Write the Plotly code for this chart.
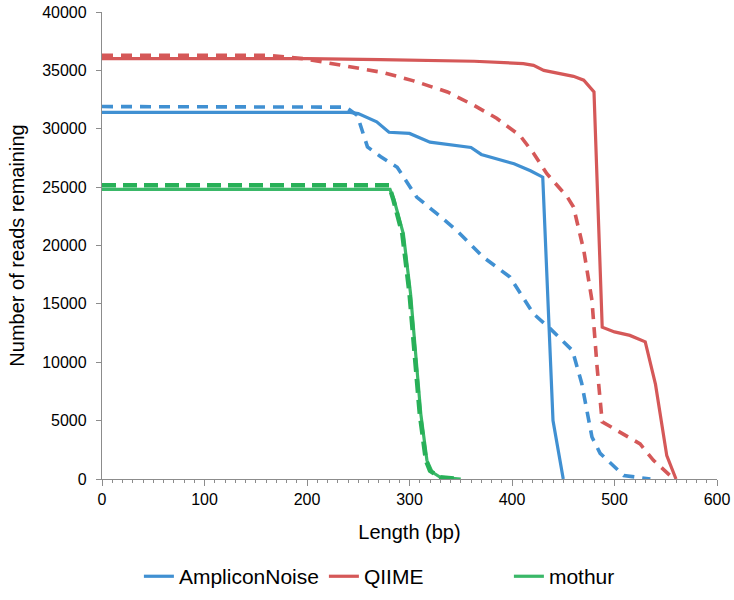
import plotly.graph_objects as go

# AmpliconNoise
an_solid_x = [0, 242, 250, 268, 280, 300, 320, 360, 370, 390, 402, 418, 430, 440, 450]
an_solid_y = [31400, 31400, 31300, 30600, 29700, 29600, 28850, 28400, 27800, 27300, 27000, 26400, 25850, 5000, 0]
an_dash_x = [0, 238, 249, 259, 272, 288, 294, 307, 327, 346, 372, 398, 421, 437, 459, 468, 478, 486, 509, 535]
an_dash_y = [31900, 31850, 31150, 28450, 27600, 26700, 25900, 24150, 22700, 21300, 19000, 17300, 14150, 12900, 11000, 8200, 3600, 2200, 300, 0]

# QIIME
qi_solid_x = [0, 200, 272, 363, 411, 421, 431, 460, 470, 480, 488, 500, 515, 530, 540, 551, 560]
qi_solid_y = [36000, 36000, 35920, 35780, 35580, 35430, 35000, 34490, 34160, 33150, 13000, 12600, 12300, 11750, 8100, 2000, 0]
qi_dash_x = [0, 160, 197, 223, 249, 275, 304, 337, 363, 385, 408, 421, 434, 454, 460, 470, 478, 483, 488, 502, 525, 538, 558]
qi_dash_y = [36300, 36300, 36000, 35600, 35150, 34800, 34100, 33150, 32000, 30900, 29400, 27900, 26150, 24150, 23300, 19600, 15300, 9600, 4900, 4150, 3000, 1600, 0]

# mothur
mo_solid_x = [0, 281, 285, 294, 301, 306, 311, 317, 322, 330, 350]
mo_solid_y = [24800, 24800, 23900, 21000, 15900, 11000, 5600, 1600, 600, 150, 0]
mo_dash_x = [0, 280, 284, 293, 300, 305, 310, 316, 320, 330, 350]
mo_dash_y = [25150, 25150, 24000, 21000, 15900, 11000, 5600, 1600, 700, 150, 0]

series_names = ["AmpliconNoise", "QIIME", "mothur"]
x_ticks = [0, 100, 200, 300, 400, 500, 600]
y_ticks = [0, 5000, 10000, 15000, 20000, 25000, 30000, 35000, 40000]

BLUE = "rgb(64,144,210)"
RED = "rgb(213,88,88)"
GREEN = "rgb(58,184,104)"
GREEN_D = "rgb(40,176,88)"

fig = go.Figure()
fig.add_trace(go.Scatter(x=an_solid_x, y=an_solid_y, mode="lines", name=series_names[0],
                         line=dict(color=BLUE, width=3.2)))
fig.add_trace(go.Scatter(x=qi_solid_x, y=qi_solid_y, mode="lines", name=series_names[1],
                         line=dict(color=RED, width=3.2)))
fig.add_trace(go.Scatter(x=mo_solid_x, y=mo_solid_y, mode="lines", name=series_names[2],
                         line=dict(color=GREEN, width=3.2)))
fig.add_trace(go.Scatter(x=an_dash_x, y=an_dash_y, mode="lines", showlegend=False,
                         line=dict(color=BLUE, width=3.6, dash="11px,8px")))
fig.add_trace(go.Scatter(x=qi_dash_x, y=qi_dash_y, mode="lines", showlegend=False,
                         line=dict(color=RED, width=3.6, dash="11px,8px")))
fig.add_trace(go.Scatter(x=mo_dash_x, y=mo_dash_y, mode="lines", showlegend=False,
                         line=dict(color=GREEN_D, width=4.5, dash="14px,7px")))

FONT = "Liberation Sans, Arial, sans-serif"
AXC = "#8c8c8c"

fig.update_layout(
    width=734, height=600,
    margin=dict(l=102, r=17, t=12, b=121, autoexpand=False),
    plot_bgcolor="white", paper_bgcolor="white",
    font=dict(family=FONT, color="black", size=16),
    showlegend=True,
    legend=dict(orientation="h", x=0.060, xanchor="left", y=-0.209, yanchor="middle",
                font=dict(size=21, family=FONT, color="black"), itemwidth=30,
                entrywidth=140, entrywidthmode="pixels",
                bgcolor="rgba(0,0,0,0)"),
)
fig.update_xaxes(range=[0, 600], tickvals=x_ticks, ticktext=[str(v) for v in x_ticks],
                 automargin=False,
                 showgrid=False, zeroline=False, showline=True, linecolor=AXC, linewidth=1.3,
                 ticks="outside", ticklen=6, tickcolor=AXC, tickwidth=1.3,
                 minor=dict(dtick=10, ticks="outside", ticklen=3, tickcolor=AXC, tickwidth=1, showgrid=False),
                 tickfont=dict(size=16, family=FONT, color="black"),
                 title=dict(text="Length (bp)", font=dict(size=20, family=FONT, color="black"), standoff=17))
fig.update_yaxes(range=[0, 40000], tickvals=y_ticks, ticktext=[str(v) for v in y_ticks],
                 automargin=False,
                 showgrid=False, zeroline=False, showline=True, linecolor=AXC, linewidth=1.3,
                 ticks="outside", ticklen=5, tickcolor=AXC, tickwidth=1.3, ticklabelstandoff=6,
                 tickfont=dict(size=16, family=FONT, color="black"),
                 title=dict(text="Number of reads remaining", font=dict(size=20, family=FONT, color="black"), standoff=12))

# remove the page's default 8px body margin so the 734x600 figure fills the window
fig.write_html("out.html", config={"displayModeBar": False},
               post_script="document.body.style.margin='0';")
